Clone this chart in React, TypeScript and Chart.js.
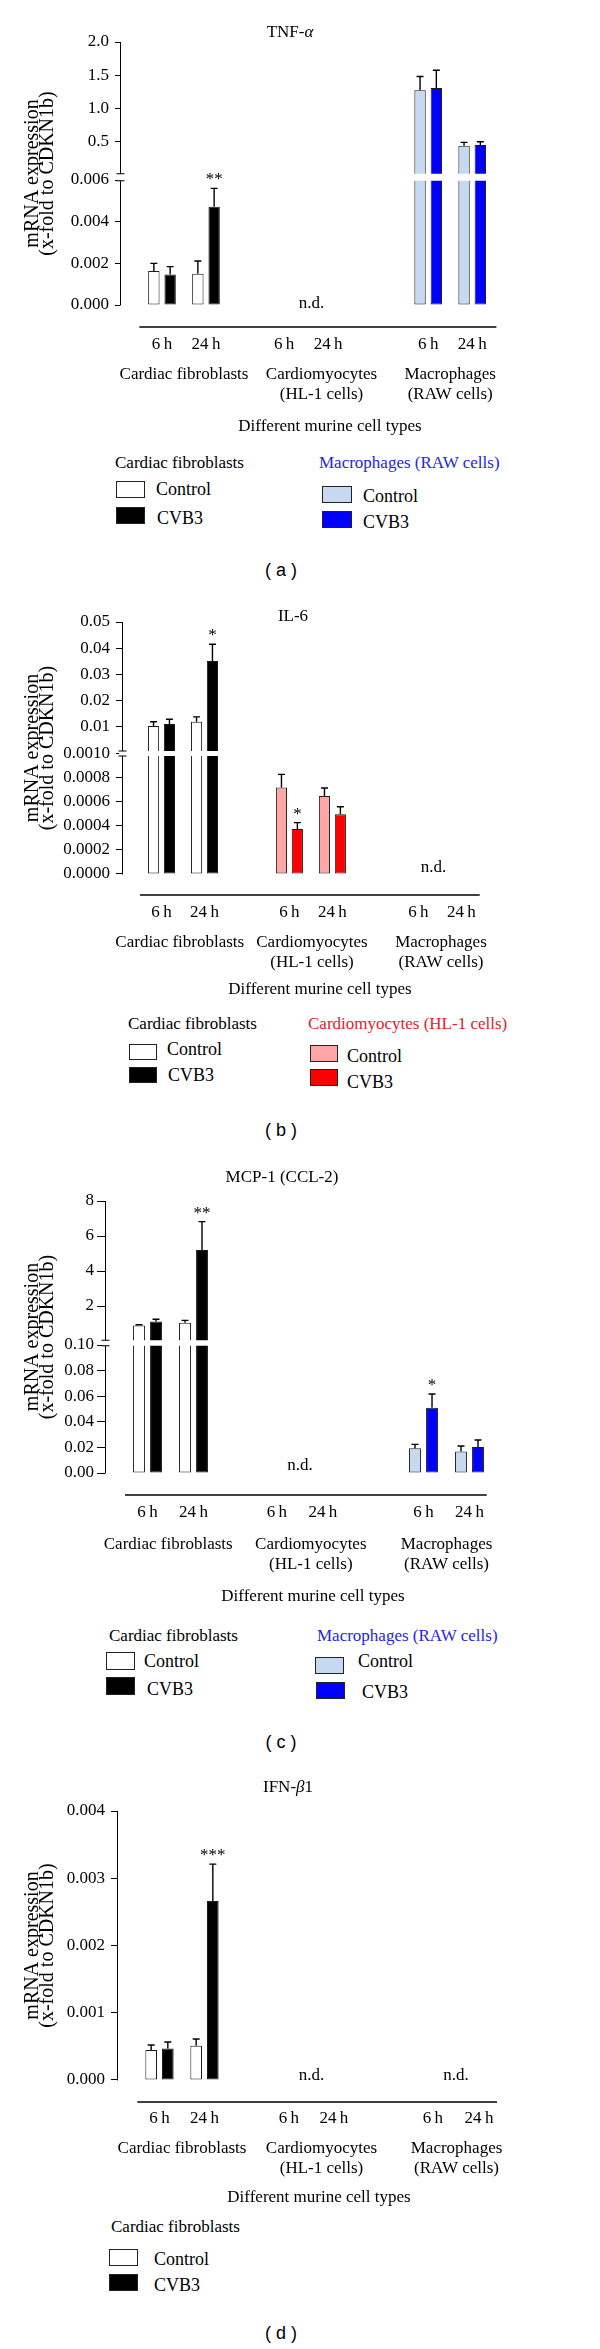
import React, { useEffect, useRef } from 'react';
import { Chart, registerables, LinearScale } from 'chart.js';

Chart.register(...registerables);

const SERIF = "'Liberation Serif', 'Times New Roman', Times, serif";
const SANS = "'Liberation Sans', Arial, Helvetica, sans-serif";

// ---------------- data ----------------
const SERIES = ['Control', 'CVB3'];
const TIME_LABELS = ['6\u2009h', '24\u2009h', '6\u2009h', '24\u2009h', '6\u2009h', '24\u2009h'];
const CELL_TYPES: (string | string[])[] = [
  'Cardiac fibroblasts',
  ['Cardiomyocytes', '(HL-1 cells)'],
  ['Macrophages', '(RAW cells)'],
];
const X_TITLE = 'Different murine cell types';
const Y_TITLE = ['mRNA expression', '(x-fold to CDKN1b)'];
const CONTROL_COLORS = ['#ffffff', '#ffa6a6', '#c6d9f1'];
const CVB3_COLORS = ['#000000', '#ff0000', '#0000ff'];

// (a) TNF-α  — order: fibro 6h, fibro 24h, cardio 6h, cardio 24h, macro 6h, macro 24h
const TNF_CONTROL = [0.00163, 0.0015, null, null, 1.27, 0.434];
const TNF_CONTROL_SEM = [0.00037, 0.00061, null, null, 0.21, 0.051];
const TNF_CVB3 = [0.00146, 0.00472, null, null, 1.307, 0.444];
const TNF_CVB3_SEM = [0.00038, 0.00088, null, null, 0.267, 0.05];
const TNF_CVB3_SIG = ['', '**', '', '', '', ''];
const TNF_Y_TICKS = [0, 0.002, 0.004, 0.006, 0.5, 1.0, 1.5, 2.0];
const TNF_Y_LABELS = ['0.000', '0.002', '0.004', '0.006', '0.5', '1.0', '1.5', '2.0'];

// (b) IL-6
const IL6_CONTROL = [0.0103, 0.0119, 0.00072, 0.00065, null, null];
const IL6_CONTROL_SEM = [0.0016, 0.0019, 0.00011, 0.000067, null, null];
const IL6_CVB3 = [0.0111, 0.0351, 0.000375, 0.000497, null, null];
const IL6_CVB3_SEM = [0.0018, 0.0064, 0.000053, 0.000064, null, null];
const IL6_CVB3_SIG = ['', '*', '*', '', '', ''];
const IL6_Y_TICKS = [0, 0.0002, 0.0004, 0.0006, 0.0008, 0.001, 0.01, 0.02, 0.03, 0.04, 0.05];
const IL6_Y_LABELS = ['0.0000', '0.0002', '0.0004', '0.0006', '0.0008', '0.0010', '0.01', '0.02', '0.03', '0.04', '0.05'];

// (c) MCP-1 (CCL-2)
const MCP_CONTROL = [0.88, 1.05, null, null, 0.0193, 0.0167];
const MCP_CONTROL_SEM = [0.05, 0.13, null, null, 0.0031, 0.0044];
const MCP_CVB3 = [1.12, 5.2, null, null, 0.051, 0.0203];
const MCP_CVB3_SEM = [0.12, 1.62, null, null, 0.0107, 0.0055];
const MCP_CVB3_SIG = ['', '**', '', '', '*', ''];
const MCP_Y_TICKS = [0, 0.02, 0.04, 0.06, 0.08, 0.1, 2, 4, 6, 8];
const MCP_Y_LABELS = ['0.00', '0.02', '0.04', '0.06', '0.08', '0.10', '2', '4', '6', '8'];

// (d) IFN-β1
const IFN_CONTROL = [0.000446, 0.00051, null, null, null, null];
const IFN_CONTROL_SEM = [0.000074, 0.0001, null, null, null, null];
const IFN_CVB3 = [0.00047, 0.00266, null, null, null, null];
const IFN_CVB3_SEM = [0.000095, 0.00055, null, null, null, null];
const IFN_CVB3_SIG = ['', '***', '', '', '', ''];
const IFN_Y_TICKS = [0, 0.001, 0.002, 0.003, 0.004];
const IFN_Y_LABELS = ['0.000', '0.001', '0.002', '0.003', '0.004'];

const NO_SIG = ['', '', '', '', '', ''];

// ---------------- broken-axis scale ----------------
class BrokenLinearScale extends (LinearScale as any) {
  static id = 'brokenLinear';
  static defaults = {};
  breakGeometry() {
    const b = (this as any).options.brk;
    const top = (this as any).top;
    const y0 = (this as any).bottom - b.padBottom;
    if (!b.highMax) return { y0, lowTop: top, upZero: top, lowMax: b.lowMax, highMax: 0 };
    const lowTop = y0 - (y0 - top) * b.lowFrac;
    return { y0, lowTop, upZero: lowTop - b.gap, lowMax: b.lowMax, highMax: b.highMax };
  }
  getPixelForValue(value: number) {
    const g = this.breakGeometry();
    if (!g.highMax || value <= g.lowMax) return g.y0 - (value / g.lowMax) * (g.y0 - g.lowTop);
    return g.upZero - (value / g.highMax) * (g.upZero - (this as any).top);
  }
}
Chart.register(BrokenLinearScale as any);

// ---------------- panels (layout) ----------------
const PANELS: any[] = [
  {
    key: 'a', caption: '( a )', captionY: 570,
    top: 0, spineX: 120, chartRight: 540, chartTop: 42, zeroY: 305, xLine: 327,
    lowTop: 180, gap: 5.5, bandH: 7, lowMax: 0.006, highMax: 2.0,
    timeOff: 18, groupOff: 48, titleOff: 100,
    xMin: -3.818, xMax: 34.364, timeSlots: [0, 4, 11.1, 15.1, 24.2, 28.2], groupSlots: [2, 14.5, 26.2],
    lineStart: -2.06, lineEnd: 30.4, tickLen: 5, tickPad: 6, ndShift: 0.5, ndDy: 3,
    title: [['TNF-', false], ['α', true]], titleX: 290, titleY: 33,
    control: TNF_CONTROL, controlSem: TNF_CONTROL_SEM, cvb3: TNF_CVB3, cvb3Sem: TNF_CVB3_SEM,
    controlSig: NO_SIG, cvb3Sig: TNF_CVB3_SIG, yTicks: TNF_Y_TICKS, yLabels: TNF_Y_LABELS,
    legend: [
      { group: 0, x: 115, cy: 463, color: '#000', bw: 29, bh: 17,
        items: [{ bx: 116, by: 481, tx: 156, ty: 489 }, { bx: 116, by: 507, tx: 157, ty: 518 }] },
      { group: 2, x: 319, cy: 463, color: '#2424e6', bw: 30, bh: 17,
        items: [{ bx: 322, by: 486, tx: 363, ty: 496 }, { bx: 322, by: 511, tx: 363, ty: 522 }] },
    ],
  },
  {
    key: 'b', caption: '( b )', captionY: 1130,
    top: 590, spineX: 122, chartRight: 518, chartTop: 622, zeroY: 874, xLine: 895,
    lowTop: 754, gap: 1, bandH: 5, lowMax: 0.001, highMax: 0.05,
    timeOff: 18, groupOff: 48, titleOff: 95,
    xMin: -3.674, xMax: 33.163, timeSlots: [0, 4, 11.9, 15.9, 23.9, 27.9], groupSlots: [1.7, 14, 26],
    lineStart: -2, lineEnd: 29.6, tickLen: 6, tickPad: 6, ndShift: -0.6, ndDy: -2,
    title: [['IL-6', false]], titleX: 293, titleY: 617,
    control: IL6_CONTROL, controlSem: IL6_CONTROL_SEM, cvb3: IL6_CVB3, cvb3Sem: IL6_CVB3_SEM,
    controlSig: NO_SIG, cvb3Sig: IL6_CVB3_SIG, yTicks: IL6_Y_TICKS, yLabels: IL6_Y_LABELS,
    legend: [
      { group: 0, x: 128, cy: 1024, color: '#000', bw: 28, bh: 16,
        items: [{ bx: 129, by: 1044, tx: 167, ty: 1049 }, { bx: 129, by: 1067, tx: 168, ty: 1075 }] },
      { group: 1, x: 308, cy: 1024, color: '#e2212b', bw: 28, bh: 17,
        items: [{ bx: 310, by: 1045, tx: 347, ty: 1056 }, { bx: 310, by: 1069, tx: 347, ty: 1082 }] },
    ],
  },
  {
    key: 'c', caption: '( c )', captionY: 1742,
    top: 1160, spineX: 105, chartRight: 521, chartTop: 1201, zeroY: 1473, xLine: 1495,
    lowTop: 1345, gap: 4, bandH: 5.5, lowMax: 0.1, highMax: 8,
    timeOff: 18, groupOff: 50, titleOff: 102,
    xMin: -3.696, xMax: 32.478, timeSlots: [0, 4, 11.25, 15.25, 24, 28], groupSlots: [1.8, 14.2, 26],
    lineStart: -1.96, lineEnd: 29.5, tickLen: 8, tickPad: 3, ndShift: 0, ndDy: -3,
    title: [['MCP-1 (CCL-2)', false]], titleX: 282, titleY: 1178,
    control: MCP_CONTROL, controlSem: MCP_CONTROL_SEM, cvb3: MCP_CVB3, cvb3Sem: MCP_CVB3_SEM,
    controlSig: NO_SIG, cvb3Sig: MCP_CVB3_SIG, yTicks: MCP_Y_TICKS, yLabels: MCP_Y_LABELS,
    legend: [
      { group: 0, x: 109, cy: 1636, color: '#000', bw: 29, bh: 18,
        items: [{ bx: 106, by: 1652, tx: 144, ty: 1661 }, { bx: 106, by: 1677, tx: 147, ty: 1689 }] },
      { group: 2, x: 317, cy: 1636, color: '#2424e6', bw: 29, bh: 17,
        items: [{ bx: 315, by: 1657, tx: 358, ty: 1661 }, { bx: 316, by: 1682, tx: 362, ty: 1692 }] },
    ],
  },
  {
    key: 'd', caption: '( d )', captionY: 2333,
    top: 1770, spineX: 117, chartRight: 521, chartTop: 1811, zeroY: 2080, xLine: 2102,
    lowTop: 1811, gap: 0, bandH: 0, lowMax: 0.004, highMax: 0,
    timeOff: 17, groupOff: 47, titleOff: 96,
    xMin: -3.778, xMax: 32.133, timeSlots: [0, 4, 11.5, 15.5, 24.3, 28.4], groupSlots: [2, 14.4, 26.4],
    lineStart: -1.97, lineEnd: 30, tickLen: 6, tickPad: 6, ndShift: 0, ndDy: 0,
    title: [['IFN-', false], ['β', true], ['1', false]], titleX: 288, titleY: 1788,
    control: IFN_CONTROL, controlSem: IFN_CONTROL_SEM, cvb3: IFN_CVB3, cvb3Sem: IFN_CVB3_SEM,
    controlSig: NO_SIG, cvb3Sig: IFN_CVB3_SIG, yTicks: IFN_Y_TICKS, yLabels: IFN_Y_LABELS,
    legend: [
      { group: 0, x: 111, cy: 2227, color: '#000', bw: 29, bh: 17,
        items: [{ bx: 109, by: 2249, tx: 154, ty: 2259 }, { bx: 109, by: 2274, tx: 154, ty: 2285 }] },
    ],
  },
];

const T_SIZE = 17, T_LH = 1.2, G_SIZE = 17, G_LH = 1.15;

function layoutOf(p: any) {
  const lhT = T_SIZE * T_LH;
  const lhG = G_SIZE * G_LH;
  const P1 = p.timeOff - lhT / 2;
  const xH = lhT + 2 * P1;
  const x2Top = p.xLine + xH;
  const P2 = p.xLine + p.groupOff - x2Top - lhG / 2;
  const labelsBottom = x2Top + 2 * lhG + 2 * P2;
  const titlePadTop = p.xLine + p.titleOff - labelsBottom - lhG / 2;
  const x2H = 2 * lhG + 2 * P2 + titlePadTop + lhG;
  const bottom = x2Top + x2H - p.top;
  const height = Math.ceil(bottom + 6);
  return { P1, P2, xH, x2H, titlePadTop, height, padBottom: height - bottom };
}

function makeDecor(p: any) {
  return {
    id: 'decor',
    afterDatasetsDraw(chart: any) {
      const ctx = chart.ctx;
      const area = chart.chartArea;
      const ys = chart.scales.y;
      const xs = chart.scales.x;
      const geo = ys.breakGeometry();
      const hasBreak = p.highMax > 0;
      const yTop = ys.getPixelForValue(hasBreak ? p.highMax : p.lowMax);
      const y0 = geo.y0;
      ctx.save();
      let bandTop = 0, bandBot = 0;
      if (hasBreak) {
        const c = (geo.lowTop + geo.upZero) / 2;
        bandTop = c - p.bandH / 2;
        bandBot = c + p.bandH / 2;
        ctx.fillStyle = '#ffffff';
        ctx.fillRect(area.left - 3, bandTop, area.right - area.left + 3, p.bandH);
      }
      // error bars + significance
      const series = [
        { vals: p.control, sems: p.controlSem, sig: p.controlSig },
        { vals: p.cvb3, sems: p.cvb3Sem, sig: p.cvb3Sig },
      ];
      ctx.strokeStyle = '#000';
      ctx.fillStyle = '#000';
      ctx.lineWidth = 1.4;
      ctx.font = `17px ${SERIF}`;
      ctx.textAlign = 'center';
      ctx.textBaseline = 'alphabetic';
      series.forEach((s, d) => {
        const meta = chart.getDatasetMeta(d);
        s.vals.forEach((v: number | null, j: number) => {
          if (v == null) return;
          const el = meta.data[j];
          const xc = el.x;
          const yv = ys.getPixelForValue(v);
          const ye = ys.getPixelForValue(v + s.sems[j]);
          ctx.beginPath();
          ctx.moveTo(xc, yv);
          ctx.lineTo(xc, ye);
          ctx.moveTo(xc - 3.5, ye);
          ctx.lineTo(xc + 3.5, ye);
          ctx.stroke();
          if (s.sig[j]) ctx.fillText(s.sig[j], xc, ye - 4);
        });
      });
      // n.d. labels
      for (let g = 0; g < 3; g++) {
        const idx = [2 * g, 2 * g + 1];
        const none = idx.every((i) => p.control[i] == null && p.cvb3[i] == null);
        if (!none) continue;
        const xm = xs.getPixelForValue((p.timeSlots[2 * g] + p.timeSlots[2 * g + 1]) / 2 + p.ndShift);
        ctx.fillText('n.d.', xm, y0 + p.ndDy);
      }
      // y spine with break
      const sx = Math.round(area.left) + 0.5;
      ctx.lineWidth = 1;
      ctx.beginPath();
      if (hasBreak) {
        ctx.moveTo(sx, yTop);
        ctx.lineTo(sx, bandTop);
        ctx.moveTo(sx - 4, bandTop);
        ctx.lineTo(sx + 4, bandTop);
        ctx.moveTo(sx - 4, bandBot);
        ctx.lineTo(sx + 4, bandBot);
        ctx.moveTo(sx, bandBot);
        ctx.lineTo(sx, y0 + 0.5);
      } else {
        ctx.moveTo(sx, yTop);
        ctx.lineTo(sx, y0 + 0.5);
      }
      ctx.stroke();
      // x baseline
      ctx.lineWidth = 1.5;
      ctx.beginPath();
      ctx.moveTo(xs.getPixelForValue(p.lineStart), area.bottom);
      ctx.lineTo(xs.getPixelForValue(p.lineEnd), area.bottom);
      ctx.stroke();
      // y title
      ctx.font = `20px ${SERIF}`;
      ctx.textAlign = 'center';
      ctx.textBaseline = 'middle';
      const cy = (yTop + y0) / 2;
      const titleXs = [33, 48];
      Y_TITLE.forEach((line, k) => {
        ctx.save();
        ctx.translate(titleXs[k], cy);
        ctx.rotate(-Math.PI / 2);
        ctx.fillText(line, 0, 0);
        ctx.restore();
      });
      // panel title
      ctx.textAlign = 'left';
      ctx.textBaseline = 'middle';
      const fonts = p.title.map(([, it]: any) => `${it ? 'italic ' : ''}17px ${SERIF}`);
      const widths = p.title.map(([t]: any, k: number) => {
        ctx.font = fonts[k];
        return ctx.measureText(t).width;
      });
      let tx = p.titleX - widths.reduce((a: number, b: number) => a + b, 0) / 2;
      const ty = p.titleY - p.top;
      p.title.forEach(([t]: any, k: number) => {
        ctx.font = fonts[k];
        ctx.fillText(t, tx, ty);
        tx += widths[k];
      });
      ctx.restore();
    },
  };
}

function buildConfig(p: any, lay: any) {
  const grp = (i: number) => Math.floor(i / 2);
  const common = {
    borderColor: '#1a1a1a',
    borderWidth: 1,
    borderSkipped: false,
    xAxisID: 'x',
    yAxisID: 'y',
    categoryPercentage: 0.74,
    barPercentage: 0.7,
  };
  return {
    type: 'bar',
    data: {
      datasets: [
        {
          ...common,
          label: SERIES[0],
          data: p.timeSlots.map((s: number, i: number) => ({ x: s, y: p.control[i] })),
          backgroundColor: p.timeSlots.map((_: number, i: number) => CONTROL_COLORS[grp(i)]),
        },
        {
          ...common,
          label: SERIES[1],
          data: p.timeSlots.map((s: number, i: number) => ({ x: s, y: p.cvb3[i] })),
          backgroundColor: p.timeSlots.map((_: number, i: number) => CVB3_COLORS[grp(i)]),
        },
      ],
    },
    options: {
      responsive: false,
      animation: false,
      devicePixelRatio: 1,
      events: [],
      layout: { padding: { top: p.chartTop - p.top, left: 0, right: 600 - p.chartRight, bottom: lay.padBottom } },
      plugins: { legend: { display: false }, title: { display: false }, tooltip: { enabled: false } },
      scales: {
        y: {
          type: 'brokenLinear',
          position: 'left',
          min: 0,
          max: p.highMax || p.lowMax,
          brk: {
            lowMax: p.lowMax,
            highMax: p.highMax,
            lowFrac: (p.zeroY - p.lowTop) / (p.zeroY - p.chartTop),
            gap: p.gap,
            padBottom: p.xLine - p.zeroY,
          },
          afterFit: (s: any) => { s.width = p.spineX; },
          afterBuildTicks: (s: any) => { s.ticks = p.yTicks.map((v: number) => ({ value: v })); },
          ticks: {
            autoSkip: false,
            color: '#000',
            padding: p.tickPad,
            font: { family: SERIF, size: 17 },
            callback: (_v: any, i: number) => p.yLabels[i],
          },
          grid: { display: true, drawOnChartArea: false, drawTicks: true, tickLength: p.tickLen, color: '#000', lineWidth: 1 },
          border: { display: false },
        },
        x: {
          type: 'linear',
          position: 'bottom',
          min: p.xMin,
          max: p.xMax,
          offset: false,
          afterFit: (s: any) => { s.height = lay.xH; },
          afterBuildTicks: (s: any) => { s.ticks = p.timeSlots.map((v: number) => ({ value: v })); },
          ticks: {
            autoSkip: false, maxRotation: 0, minRotation: 0, color: '#000', padding: lay.P1,
            font: { family: SERIF, size: T_SIZE, lineHeight: T_LH },
            callback: (_v: any, i: number) => TIME_LABELS[i],
          },
          grid: { display: false, drawTicks: false },
          border: { display: false },
        },
        x2: {
          type: 'linear',
          position: 'bottom',
          min: p.xMin,
          max: p.xMax,
          offset: false,
          afterFit: (s: any) => { s.height = lay.x2H; },
          afterBuildTicks: (s: any) => { s.ticks = p.groupSlots.map((v: number) => ({ value: v })); },
          ticks: {
            autoSkip: false, maxRotation: 0, minRotation: 0, color: '#000', padding: lay.P2,
            font: { family: SERIF, size: G_SIZE, lineHeight: G_LH },
            callback: (_v: any, i: number) => CELL_TYPES[i],
          },
          grid: { display: false, drawTicks: false },
          border: { display: false },
          title: {
            display: true,
            text: X_TITLE,
            color: '#000',
            font: { family: SERIF, size: G_SIZE, lineHeight: G_LH },
            padding: { top: lay.titlePadTop, bottom: 0 },
          },
        },
      },
    },
    plugins: [makeDecor(p)],
  };
}

const groupName = (g: number) => {
  const n = CELL_TYPES[g];
  return Array.isArray(n) ? n.join(' ') : n;
};

function PanelView({ p }: { p: any }) {
  const ref = useRef<HTMLCanvasElement | null>(null);
  const lay = layoutOf(p);
  useEffect(() => {
    if (!ref.current) return;
    const chart = new Chart(ref.current, buildConfig(p, lay) as any);
    return () => chart.destroy();
  }, []);
  const text = (x: number, cy: number, s: string, color: string, size: number, key: string) => (
    <div key={key} style={{ position: 'absolute', left: x, top: cy - 11, lineHeight: '22px', fontSize: size, fontFamily: SERIF, color, whiteSpace: 'nowrap' }}>{s}</div>
  );
  return (
    <>
      <canvas ref={ref} width={600} height={lay.height} style={{ position: 'absolute', left: 0, top: p.top, width: 600, height: lay.height }} />
      {p.legend.map((lg: any, gi: number) => (
        <React.Fragment key={gi}>
          {text(lg.x, lg.cy, groupName(lg.group), lg.color, 17, 't')}
          {lg.items.map((it: any, k: number) => (
            <React.Fragment key={k}>
              <div style={{ position: 'absolute', left: it.bx, top: it.by, width: lg.bw, height: lg.bh, boxSizing: 'border-box', border: '1.5px solid #222', background: k === 0 ? CONTROL_COLORS[lg.group] : CVB3_COLORS[lg.group] }} />
              {text(it.tx, it.ty, SERIES[k], '#000', 18, 'l' + k)}
            </React.Fragment>
          ))}
        </React.Fragment>
      ))}
      <div style={{ position: 'absolute', left: 231, width: 100, top: p.captionY - 12, lineHeight: '24px', textAlign: 'center', fontSize: 18, fontFamily: SANS, color: '#000', whiteSpace: 'pre' }}>{p.caption}</div>
    </>
  );
}

export default function App() {
  return (
    <div style={{ position: 'absolute', left: 0, top: 0, width: 600, height: 2349, background: '#ffffff', overflow: 'hidden' }}>
      {PANELS.map((p) => <PanelView key={p.key} p={p} />)}
    </div>
  );
}
